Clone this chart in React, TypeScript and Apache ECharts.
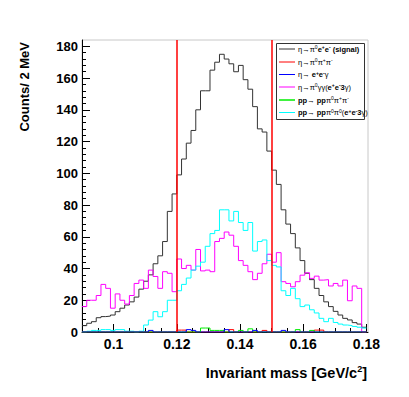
import React, { useEffect, useRef } from "react";
import * as echarts from "echarts";

// Histogram binning: 60 bins of 1.5 MeV starting at 0.09 GeV/c^2
const binStart = 0.09;
const binWidth = 0.0015;

// eta -> pi0 e+ e- (signal)
const signalCounts = [
  4, 5.5, 6.5, 9, 9.7, 10, 10.7, 12.8, 15, 17,
  19, 22, 27, 32, 36, 43, 48, 57, 76, 87,
  99, 109, 119, 127, 140, 152, 152, 165, 170, 175,
  172, 169, 164, 168, 159, 153, 142, 128, 126, 114,
  102, 93, 77, 68, 62, 53, 45, 37, 33, 27.5,
  23, 19, 16, 13, 10.7, 8.6, 7.6, 5.9, 5, 3,
];
// eta -> pi0 pi+ pi-
const pi0pipiCounts = [
  0, 0, 0, 0, 0, 0, 0, 0, 0, 0,
  0, 0, 0, 0, 0, 0, 0, 0, 0, 0,
  1.2, 1.2, 0, 0, 0, 0, 0, 0, 0, 0,
  0, 1.5, 0, 0, 0, 0, 0, 0, 1, 0,
  0, 0, 0, 0, 0, 0, 0, 0, 0, 1.2,
  1.2, 0, 0, 0, 0, 0, 0, 0, 0, 0,
];
// eta -> e+ e- gamma
const eeGammaCounts = [
  0, 0, 0, 0, 0, 0, 0, 0, 0, 0,
  0, 0, 0, 0, 1, 0, 0, 0, 0, 0,
  0, 0, 1.5, 1, 0, 0, 0, 0, 0, 0,
  1.5, 0, 0, 0, 0, 0, 1, 0, 0, 0,
  0, 0, 1, 0, 0, 0, 0, 0, 0, 0,
  0, 0, 0, 0, 0, 0, 0, 0, 0, 0,
];
// eta -> pi0 gamma gamma (e+e-3gamma)
const pi0ggCounts = [
  16, 20, 20, 23, 30, 27.5, 15, 24, 20, 17.6,
  23, 30.6, 32.7, 27.5, 39, 35, 27.5, 38, 37, 25.4,
  46, 40, 42, 39, 52, 38.5, 39, 38, 57, 59,
  63, 61, 54, 45, 42, 38, 33, 37, 43, 49,
  44, 50, 31.7, 30.6, 28.5, 31.7, 35.8, 37.3, 33.8, 35.2,
  32.7, 33, 29, 30.6, 29, 32.7, 19.7, 29, 27.5, 0,
];
// pp -> pp pi0 pi+ pi-
const ppPi0PipiCounts = [
  0, 0, 0, 0, 0, 0, 0, 0, 0, 0,
  0, 0, 0, 0, 0, 0, 0, 0, 0, 0,
  0, 0, 0, 0, 0, 2.5, 2.5, 1, 1, 1,
  0, 0, 0, 1, 0, 2, 0, 0, 0, 0,
  0, 0, 0, 0, 0, 1.5, 0, 0, 1, 0,
  0, 0, 0, 0, 0, 0, 0, 0, 0, 0,
];
// pp -> pp pi0 pi0 (e+e-3gamma)
const ppPi0Pi0Counts = [
  0, 0.5, 1, 1, 1.5, 1.5, 1, 1.5, 1.5, 0.5,
  0.5, 0, 0.5, 4.4, 7.5, 12.8, 9.6, 12.8, 20, 20,
  26, 30, 34, 39, 41.5, 44, 54, 62, 64, 77,
  77, 70, 76, 69, 64, 69, 51, 57, 58, 45,
  42, 41, 26, 23, 27.5, 21, 16, 17, 14, 12,
  8.6, 6.5, 8.6, 6, 5, 4.4, 4, 3.5, 3, 2.5,
];

const seriesNames = [
  "η→π⁰e⁺e⁻ (signal)",
  "η→π⁰π⁺π⁻",
  "η→ e⁺e⁻γ",
  "η→π⁰γγ(e⁺e⁻3γ)",
  "pp→ ppπ⁰π⁺π⁻",
  "pp→ ppπ⁰π⁰(e⁺e⁻3γ)",
];
const legendRich = [
  "η→π{s|0}{b|e}{sb|+}{b|e}{sb|-}{b| (signal)}",
  "η→π{s|0}π{s|+}π{s|-}",
  "η→ {b|e}{sb|+}{b|e}{sb|-}γ",
  "η→π{s|0}γγ({b|e}{sb|+}{b|e}{sb|-}{b|3}γ)",
  "{b|pp}→ {b|pp}π{s|0}π{s|+}π{s|-}",
  "{b|pp}→ {b|pp}π{s|0}π{s|0}({b|e}{sb|+}{b|e}{sb|-}{b|3}γ)",
];
const seriesColors = ["#333333", "#ff0000", "#0000ff", "#ff00ff", "#00ee00", "#00ffff"];

const cutValues = [0.12, 0.1488];
const xMajorTicks = [0.1, 0.12, 0.14, 0.16, 0.18];
const xMinorTicks = [0.09, 0.095, 0.105, 0.11, 0.115, 0.125, 0.13, 0.135, 0.145, 0.15, 0.155, 0.165, 0.17, 0.175];
const yMajorTicks = [0, 20, 40, 60, 80, 100, 120, 140, 160, 180];
const yMinorTicks = [4, 8, 12, 16, 24, 28, 32, 36, 44, 48, 52, 56, 64, 68, 72, 76, 84, 88, 92, 96, 104, 108, 112, 116, 124, 128, 132, 136, 144, 148, 152, 156, 164, 168, 172, 176];

const xMin = 0.09;
const xMax = 0.1805;
const yMin = 0;
const yMax = 184;

function toSteps(counts: number[]) {
  const pts: [number, number][] = counts.map((v, i) => [binStart + binWidth * i, v]);
  pts.push([binStart + binWidth * counts.length, counts[counts.length - 1]]);
  return pts;
}

export default function App() {
  const ref = useRef<HTMLDivElement>(null);
  useEffect(() => {
    if (!ref.current) return;
    const chart = echarts.init(ref.current, undefined, { renderer: "svg" });
    const font = "Liberation Sans, Arial, Helvetica, sans-serif";
    const allCounts = [signalCounts, pi0pipiCounts, eeGammaCounts, pi0ggCounts, ppPi0PipiCounts, ppPi0Pi0Counts];
    const drawOrder = [0, 3, 5, 1, 4, 2];

    const series: any[] = drawOrder.map((idx) => ({
      type: "line",
      name: seriesNames[idx],
      data: toSteps(allCounts[idx]),
      step: "end",
      showSymbol: false,
      symbol: "none",
      xAxisIndex: 0,
      yAxisIndex: 0,
      lineStyle: { color: seriesColors[idx], width: 1 },
      itemStyle: { color: seriesColors[idx] },
      z: 3,
      markLine:
        idx === 1
          ? {
              silent: true,
              symbol: ["none", "none"],
              label: { show: false },
              lineStyle: { color: "#ff0000", width: 1.5, type: "solid" },
              data: cutValues.map((v) => ({ xAxis: v })),
            }
          : undefined,
    }));

    const legX = 276.5;
    const legY = 43.5;
    const rowY = [49, 62, 74.5, 87, 100, 112.5];
    const legendGraphics: any[] = [
      {
        type: "rect",
        shape: { x: legX, y: legY, width: 88, height: 76 },
        style: { fill: "#ffffff", stroke: "#333333", lineWidth: 1 },
        z: 100,
      },
    ];
    const legFont = "Liberation Sans, Arial, sans-serif";
    seriesNames.forEach((_, i) => {
      legendGraphics.push({
        type: "line",
        shape: { x1: 279, y1: rowY[i], x2: 295, y2: rowY[i] },
        style: { stroke: seriesColors[i], lineWidth: i === 4 ? 1.5 : 1 },
        z: 101,
      });
      legendGraphics.push({
        type: "text",
        x: 298,
        y: rowY[i],
        style: {
          text: legendRich[i],
          fontSize: 7.5,
          fontFamily: legFont,
          fill: "#000",
          verticalAlign: "middle",
          align: "left",
          lineHeight: 9,
          rich: {
            b: { fontSize: 7.5, fontWeight: "bold", fontFamily: legFont, fill: "#000", verticalAlign: "middle" },
            s: { fontSize: 5, fontFamily: legFont, fill: "#000", verticalAlign: "top" },
            sb: { fontSize: 5, fontWeight: "bold", fontFamily: legFont, fill: "#000", verticalAlign: "top" },
          },
        },
        z: 101,
      });
    });

    chart.setOption({
      animation: false,
      backgroundColor: "#ffffff",
      grid: {
        left: 82,
        right: 41,
        top: 40,
        bottom: 65,
        show: true,
        borderColor: "#c8c8c8",
        borderWidth: 1,
        backgroundColor: "transparent",
        containLabel: false,
      },
      xAxis: [
        {
          type: "value",
          min: xMin,
          max: xMax,
          position: "bottom",
          axisLine: { show: true, onZero: false, lineStyle: { color: "#000", width: 1 } },
          axisTick: { show: true, inside: true, length: 8, customValues: xMajorTicks, lineStyle: { color: "#000" } },
          axisLabel: {
            show: true,
            customValues: xMajorTicks,
            formatter: (v: number) => String(parseFloat(v.toFixed(3))),
            color: "#000",
            fontSize: 14,
            fontWeight: "bold",
            fontFamily: font,
            margin: 5,
          },
          splitLine: { show: false },
        },
        {
          type: "value",
          min: xMin,
          max: xMax,
          position: "bottom",
          axisLine: { show: false },
          axisTick: { show: true, inside: true, length: 4, customValues: xMinorTicks, lineStyle: { color: "#000" } },
          axisLabel: { show: false },
          splitLine: { show: false },
        },
      ],
      yAxis: [
        {
          type: "value",
          min: yMin,
          max: yMax,
          position: "left",
          axisLine: { show: true, onZero: false, lineStyle: { color: "#000", width: 1 } },
          axisTick: { show: true, inside: true, length: 8, customValues: yMajorTicks, lineStyle: { color: "#000" } },
          axisLabel: {
            show: true,
            customValues: yMajorTicks,
            color: "#000",
            fontSize: 13,
            fontWeight: "bold",
            fontFamily: font,
            margin: 4,
          },
          splitLine: { show: false },
        },
        {
          type: "value",
          min: yMin,
          max: yMax,
          position: "left",
          offset: 0,
          axisLine: { show: false },
          axisTick: { show: true, inside: true, length: 4, customValues: yMinorTicks, lineStyle: { color: "#000" } },
          axisLabel: { show: false },
          splitLine: { show: false },
        },
      ],
      series,
      graphic: [
        {
          type: "text",
          x: 24,
          y: 42,
          rotation: Math.PI / 2,
          style: {
            text: "Counts/ 2 MeV",
            fontSize: 13,
            fontWeight: "bold",
            fontFamily: font,
            fill: "#000",
            align: "right",
            verticalAlign: "middle",
          },
        },
        {
          type: "text",
          x: 367,
          y: 373,
          style: {
            text: "Invariant mass [GeV/c{s|2}]",
            fontSize: 14.5,
            fontWeight: "bold",
            fontFamily: font,
            fill: "#000",
            align: "right",
            verticalAlign: "middle",
            rich: { s: { fontSize: 9, fontWeight: "bold", fontFamily: font, fill: "#000", padding: [0, 0, 8, 0] } },
          },
        },
        ...legendGraphics,
      ],
    });
    return () => chart.dispose();
  }, []);
  return (
    <div
      ref={ref}
      style={{ position: "absolute", left: 0, top: 0, width: 409, height: 397 }}
    />
  );
}
